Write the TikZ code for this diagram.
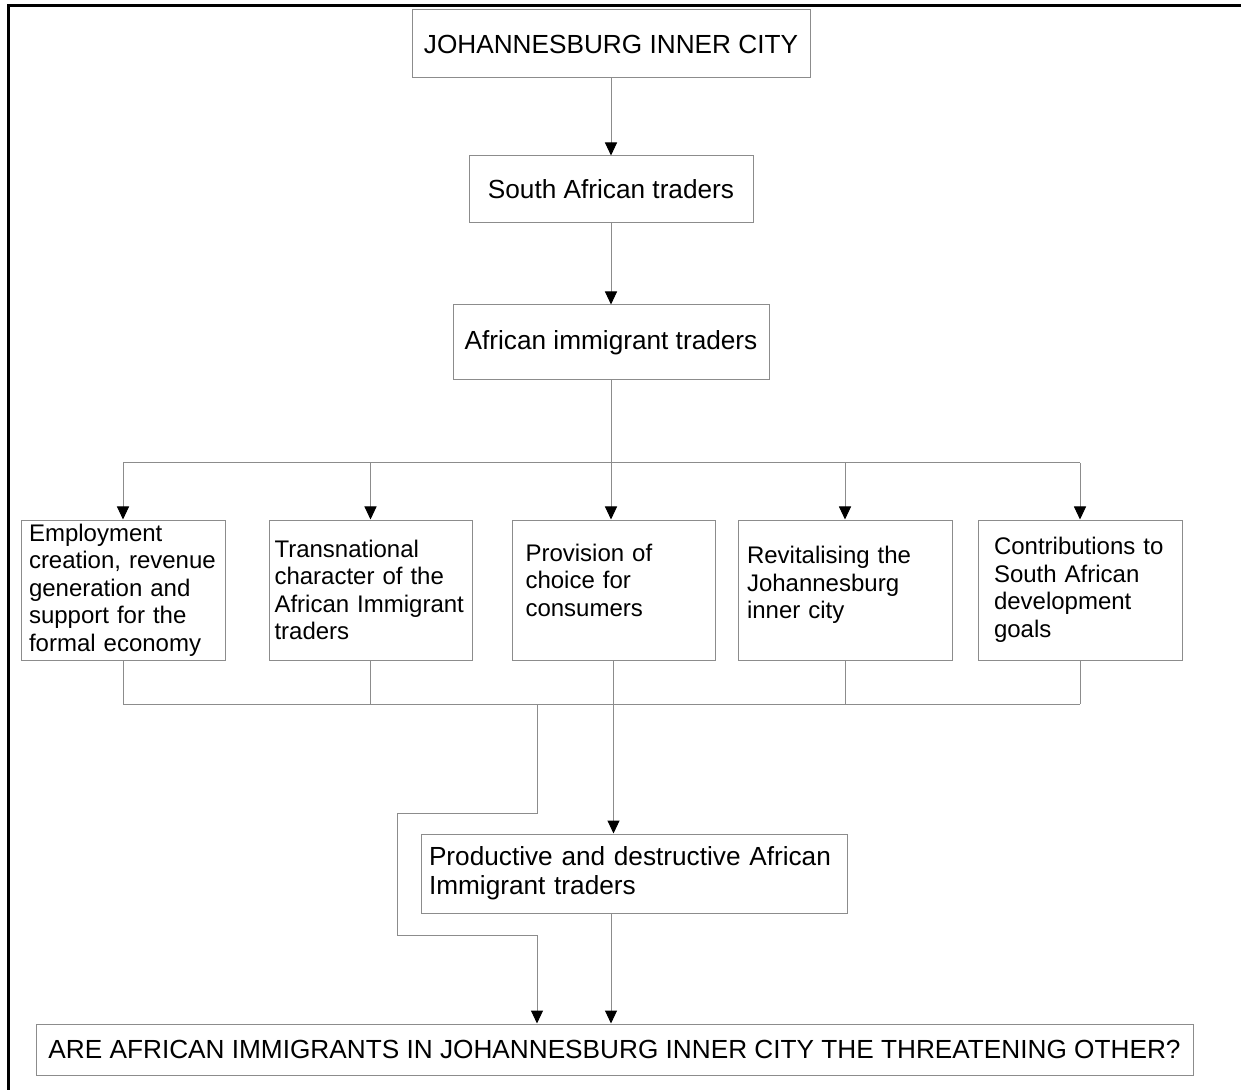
\documentclass[tikz,border=0pt]{standalone}
\usepackage{fontspec}
\setmainfont{Liberation Sans}
\usetikzlibrary{arrows.meta,
                calc,
                positioning}
\definecolor{linegray}{RGB}{140,140,140}
\tikzset{
	%Define standard arrow tip
	>={Triangle[length=6.5pt,width=6pt,color=black]},
	%Define style for the main boxes
	punkt/.style={
	       rectangle,
	       draw=linegray, line width=0.5pt,
	       inner sep=0pt,
	       font=\fontsize{13.1}{14.6}\selectfont,
	       text centered},
	%Define style for the boxes of the middle row
	punkrow/.style={
	       rectangle,
	       draw=linegray, line width=0.5pt,
	       inner xsep=0pt, inner ysep=1pt,
	       minimum height=70pt,
	       align=left,
	       font=\fontsize{12}{13.75}\selectfont},
	% Define line and arrow styles
	lin/.style={
	       draw=linegray,
	       line width=0.5pt},
	pil/.style={
	       ->,
	       draw=linegray,
	       line width=0.5pt}
}
\begin{document}
\begin{tikzpicture}[x=0.5pt, y=-0.5pt, node distance=1cm] % one unit is one pixel
		\useasboundingbox (0,0) rectangle (1241,1090);
		\draw[line width=1.5pt] (8,1090) -- (8,6) -- (1241,6);
		\node[punkt, minimum width=199pt, minimum height=34pt](city) at (611,44){JOHANNESBURG INNER CITY};
		\node[punkt, minimum width=142pt, minimum height=33.5pt, below=38.5pt of city](sat){South African traders}
		edge[pil, <-](city);
		\node[punkt, minimum width=158pt, minimum height=37.5pt, below=40.5pt of sat](ait){African immigrant traders}
		edge[pil, <-](sat);
		% middle row
		\node[punkrow, text width=88pt, text depth=37.5pt, minimum width=101.5pt, below=69.5pt of ait, xshift=1.25pt](cons){Provision of\\choice for\\consumers};
		\node[punkrow, text width=96pt, minimum width=101.5pt, left=19.5pt of cons](trans){Transnational\\character of the\\African Immigrant\\traders};
		\node[punkrow, text width=94pt, minimum width=102pt, left=21.5pt of trans](emp){Employment\\creation, revenue\\generation and\\support for the\\formal economy};
		\node[punkrow, text width=98pt, text depth=35pt, minimum width=107pt, right=11pt of cons](revit){Revitalising the\\Johannesburg\\inner city};
		\node[punkrow, text width=86pt, minimum width=102pt, right=12.5pt of revit](contrib){Contributions to\\South African\\development\\goals};
		\coordinate (split) at (611,463);
		\draw[pil] (ait) -- (ait |- cons.north);
		\draw[lin] (emp.north |- split) -- (contrib.north |- split);
		\foreach \b in {emp, trans, revit, contrib}
			\draw[pil] (\b.north |- split) -- (\b.north);
		% lines below the row
		\coordinate (merge) at (537,704);
		\draw[lin] (emp.south |- merge) -- (contrib.south |- merge);
		\foreach \b in {emp, trans, revit, contrib}
			\draw[lin] (\b.south) -- (\b.south |- merge);
		\node[punkt, align=left, text width=205pt, minimum width=213pt, minimum height=39.5pt, below=86.5pt of cons, xshift=10.25pt](prod){Productive and destructive African\\Immigrant traders};
		\draw[pil] (cons) -- (cons |- prod.north);
		\node[punkt, minimum width=578.5pt, minimum height=25.5pt, below=55pt of prod, xshift=-9.75pt](quest){ARE AFRICAN IMMIGRANTS IN JOHANNESBURG INNER CITY THE THREATENING OTHER?};
		\draw[pil] (prod.south -| ait) -- (ait |- quest.north);
		\draw[pil] (merge) -- ++(0,109) -- ++(-140,0) -- ++(0,122) -- ++(140,0) -- (merge |- quest.north);
	\end{tikzpicture}
\end{document}
